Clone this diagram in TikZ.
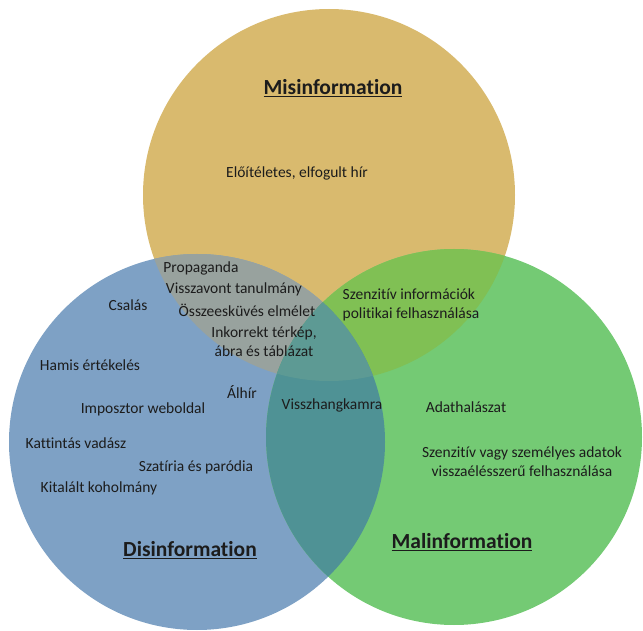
\documentclass[tikz,border=0pt]{standalone}
\usepackage{fontspec}
\setmainfont[Ligatures={NoCommon,NoContextual}]{Carlito}
\definecolor{misC}{HTML}{D9BA6E}
\definecolor{disC}{HTML}{7EA1C5}
\definecolor{malC}{HTML}{74CA74}
\definecolor{misdisC}{HTML}{98A29E}
\definecolor{mismalC}{HTML}{80C054}
\definecolor{dismalC}{HTML}{4F9295}
\definecolor{allC}{HTML}{5D9A94}
\definecolor{inkC}{HTML}{1C1C1C}
\tikzset{
  item/.style={text=inkC, font=\fontsize{15.5}{19}\selectfont, inner sep=0pt, align=center},
  title/.style={text=inkC, font=\fontsize{21.5}{24}\selectfont\bfseries, inner sep=0pt},
}
\newcommand{\misset}{(329,195) circle[radius=186]}
\newcommand{\disset}{(197,442) circle[radius=188]}
\newcommand{\malset}{(454,437) circle[radius=188]}
\begin{document}
\begin{tikzpicture}[x=1pt,y=-1pt]
\useasboundingbox (0,0) rectangle (643,631);
% base circles
\fill[misC] \misset;
\fill[disC] \disset;
\fill[malC] \malset;
% pairwise overlaps
\begin{scope}
  \clip \misset;
  \fill[misdisC] \disset;
  \fill[mismalC] \malset;
\end{scope}
\begin{scope}
  \clip \disset;
  \fill[dismalC] \malset;
\end{scope}
% triple overlap
\begin{scope}
  \clip \misset;
  \clip \disset;
  \fill[allC] \malset;
\end{scope}

% set titles
\node[title] (tmis) at (333,88) {\underline{Misinformation}};
\node[title] (tdis) at (190,550) {\underline{Disinformation}};
\node[title] (tmal) at (462,542) {\underline{Malinformation}};

% misinformation only
\node[item] (elo) at (297,173) {Előítéletes, elfogult hír};

% misinformation and disinformation
\node[item] (prop) at (201,268) {Propaganda};
\node[item] (vissza) at (234,289) {Visszavont tanulmány};
\node[item] (ossze) at (247,310) {Összeesküvés elmélet};
\node[item] (inkor) at (264,342) {Inkorrekt térkép,\\ábra és táblázat};

% misinformation and malinformation
\node[item, align=left] (szenz) at (411,304.5) {Szenzitív információk\\politikai felhasználása};

% disinformation only
\node[item] (csalas) at (128,305) {Csalás};
\node[item] (hamis) at (90,365) {Hamis értékelés};
\node[item] (alhir) at (242,392) {Álhír};
\node[item] (impo) at (143,409) {Imposztor weboldal};
\node[item] (katt) at (76,443) {Kattintás vadász};
\node[item] (szat) at (196,467) {Szatíria és paródia};
\node[item] (kital) at (99,488) {Kitalált koholmány};

% disinformation and malinformation
\node[item] (visszh) at (332,405) {Visszhangkamra};

% malinformation only
\node[item] (adat) at (466,407) {Adathalászat};
\node[item] (szemely) at (522,462) {Szenzitív vagy személyes adatok\\visszaélésszerű felhasználása};
\end{tikzpicture}
\end{document}
